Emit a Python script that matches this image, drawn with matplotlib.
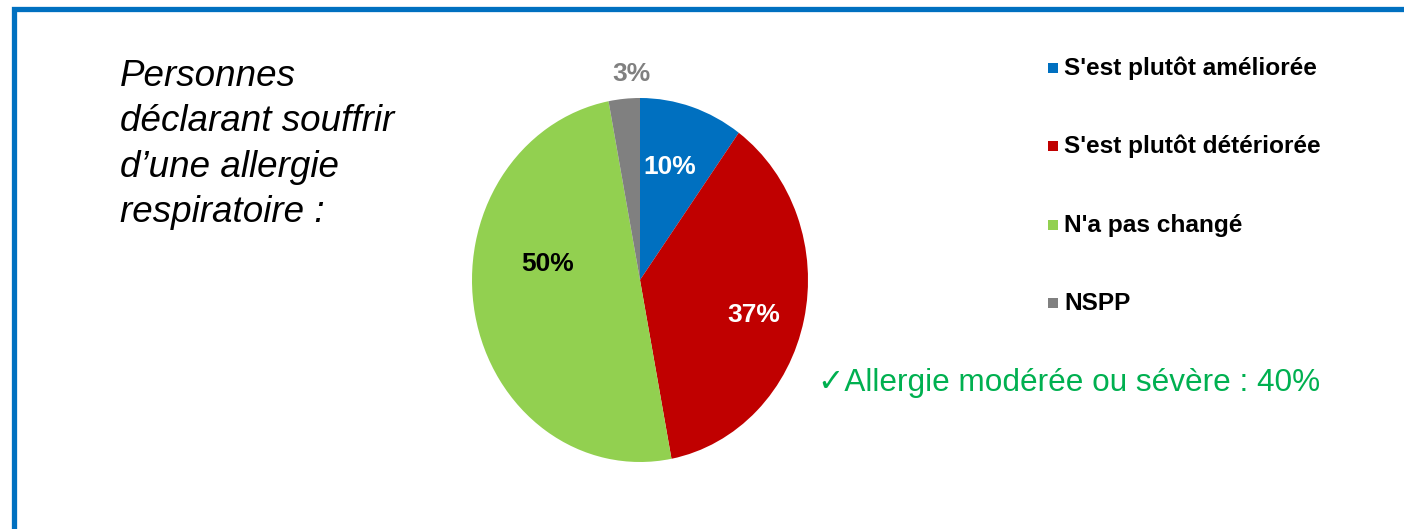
import matplotlib
matplotlib.use("Agg")
import matplotlib.pyplot as plt
from matplotlib.patches import Rectangle

plt.rcParams['font.family'] = ['Liberation Sans', 'DejaVu Sans']

categories = ["S'est plutôt améliorée", "S'est plutôt détériorée", "N'a pas changé", "NSPP"]
values = [10, 37, 50, 3]
colors = ["#0070C0", "#C00000", "#92D050", "#808080"]
label_colors = ["white", "white", "black", "#808080"]
title_text = "Personnes\ndéclarant souffrir\nd’une allergie\nrespiratoire :"
note_text = "✓Allergie modérée ou sévère : 40%"

W, H = 1404, 529
fig = plt.figure(figsize=(W / 100, H / 100), dpi=100)
fig.patch.set_facecolor("white")

# blue frame (extends beyond right/bottom edges)
fig.patches.append(Rectangle((13.5 / W, -0.1), 1.2, (H - 8.5) / H + 0.1,
                             transform=fig.transFigure, fill=False,
                             edgecolor="#0070C0", linewidth=3.8, zorder=0))

# pie axes (slightly elliptical as in reference)
cx, cy, rx, ry = 640, 280, 168, 182
ax = fig.add_axes([(cx - rx) / W, (H - cy - ry) / H, 2 * rx / W, 2 * ry / H])
wedges, texts, autotexts = ax.pie(values, colors=colors, startangle=90, counterclock=False,
                                  autopct='%d%%', radius=1.0, center=(0, 0),
                                  textprops=dict(fontsize=19, fontweight='bold'))
ax.set_aspect('auto')
ax.set_xlim(-1, 1)
ax.set_ylim(-1, 1)
ax.axis('off')

# label placement (style / layout)
label_pos = [(0.18, 0.62), (0.68, -0.19), (-0.55, 0.09), (-0.05, 1.13)]
for t, pos, c in zip(autotexts, label_pos, label_colors):
    t.set_position(pos)
    t.set_color(c)
    t.set_ha('center')
    t.set_va('center')
    t.set_clip_on(False)

# title text
fig.text(120 / W, 1 - 59 / H, title_text, fontsize=26.5, style='italic',
         ha='left', va='top', linespacing=1.38, color='black')

# legend
leg_y = [68, 146, 225, 303]
for name, col, y in zip(categories, colors, leg_y):
    fig.patches.append(Rectangle((1048 / W, 1 - (y + 5) / H), 10 / W, 10 / H,
                                 transform=fig.transFigure, facecolor=col, edgecolor='none'))
    fig.text(1064 / W, 1 - y / H, name, fontsize=17.6, fontweight='bold',
             ha='left', va='center', color='black')

# note
fig.text(818 / W, 1 - 383 / H, note_text, fontsize=22.7, color="#00B050",
         ha='left', va='center')

fig.savefig("out.png", dpi=100, facecolor="white")
